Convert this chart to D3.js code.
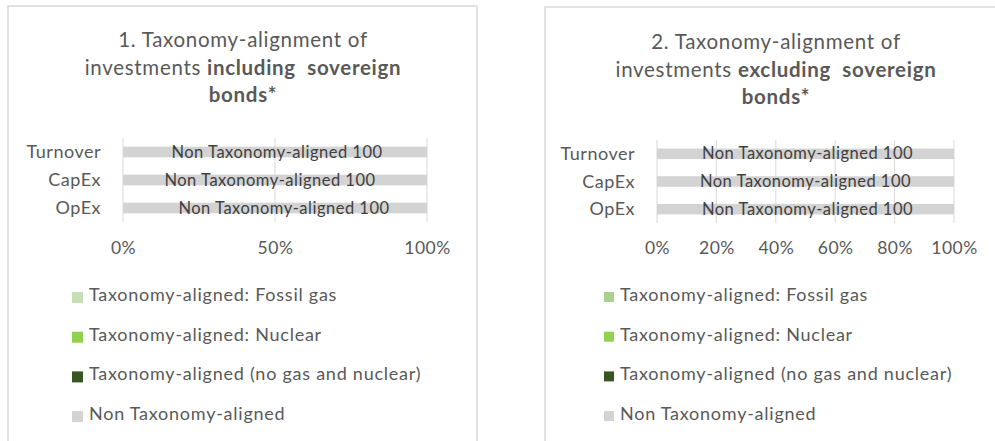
<!DOCTYPE html>
<html>
<head>
<meta charset="utf-8">
<script src="https://cdn.jsdelivr.net/npm/d3@7"></script>
<style>
  body { margin: 0; background: #fff; }
  text { font-family: Lato, "Open Sans", sans-serif; }
</style>
</head>
<body>
<svg id="chart" width="995" height="441"></svg>
<script>
const categories = ['Turnover', 'CapEx', 'OpEx']
const seriesNames = [
  'Taxonomy-aligned: Fossil gas',
  'Taxonomy-aligned: Nuclear',
  'Taxonomy-aligned (no gas and nuclear)',
  'Non Taxonomy-aligned'
]
// values in %, per category (Turnover, CapEx, OpEx)
const inclFossilGas = [0, 0, 0]
const inclNuclear = [0, 0, 0]
const inclAligned = [0, 0, 0]
const inclNonAligned = [100, 100, 100]

const exclFossilGas = [0, 0, 0]
const exclNuclear = [0, 0, 0]
const exclAligned = [0, 0, 0]
const exclNonAligned = [100, 100, 100]

const ticksIncl = [0, 0.5, 1]
const ticksExcl = [0, 0.2, 0.4, 0.6, 0.8, 1]

const colors = ['#c5e0b4', '#92d050', '#375623', '#d3d3d3']
const legendColorsRight = ['#a9d18e', '#92d050', '#375623', '#d3d3d3']

const svg = d3.select('#chart')

function buildRows(fg, nu, al, non) {
  return categories.map((c, i) => ({
    cat: c,
    [seriesNames[0]]: fg[i],
    [seriesNames[1]]: nu[i],
    [seriesNames[2]]: al[i],
    [seriesNames[3]]: non[i]
  }))
}

function drawPanel(opt) {
  const g = svg.append('g')

  // panel frame
  g.append('rect')
    .attr('x', opt.frame[0])
    .attr('y', opt.frame[1])
    .attr('width', opt.frame[2])
    .attr('height', 480)
    .attr('fill', 'white')
    .attr('stroke', '#d9d9d9')
    .attr('stroke-width', 1.5)

  // title, 3 lines with bold parts
  const title = g.append('text')
    .attr('text-anchor', 'middle')
    .attr('font-size', '20.5px')
    .attr('letter-spacing', '0.7px')
    .attr('fill', '#595959')
    .style('white-space', 'pre')
  opt.title.forEach((line, li) => {
    const t = title.append('tspan')
      .attr('x', opt.titleX)
      .attr('y', opt.titleY + li * 27.5)
    line.forEach(part => {
      t.append('tspan')
        .attr('font-weight', part.b ? 'bold' : 'normal')
        .text(part.t)
    })
  })

  const rows = buildRows(...opt.values)
  const stacked = d3.stack().keys(seriesNames)(rows)

  const x = d3.scaleLinear()
    .domain([0, 100])
    .range([opt.x0, opt.x1])

  const y = d3.scaleBand()
    .domain(categories)
    .range([opt.yTop, opt.yBottom])
    .paddingInner(0.62)
    .paddingOuter(0.31)

  // vertical gridlines
  g.append('g').selectAll('line')
    .data(opt.ticks)
    .enter()
    .append('line')
    .attr('x1', d => x(d * 100))
    .attr('x2', d => x(d * 100))
    .attr('y1', opt.yTop)
    .attr('y2', opt.yBottom)
    .attr('stroke', '#d9d9d9')
    .attr('stroke-width', 1)

  // bars
  g.append('g').selectAll('g')
    .data(stacked)
    .enter()
    .append('g')
    .attr('fill', (d, i) => colors[i])
    .selectAll('rect')
    .data(d => d)
    .enter()
    .append('rect')
    .attr('x', d => x(d[0]))
    .attr('y', d => y(d.data.cat))
    .attr('width', d => x(d[1]) - x(d[0]))
    .attr('height', y.bandwidth())

  // data labels on the non-aligned part
  const nonSeries = stacked[3]
  g.append('g').selectAll('text')
    .data(nonSeries)
    .enter()
    .append('text')
    .attr('x', (d, i) => (x(d[0]) + x(d[1])) / 2 + opt.labelNudge[i])
    .attr('y', d => y(d.data.cat) + y.bandwidth() / 2 + 5.5)
    .attr('text-anchor', 'middle')
    .attr('font-size', '16.5px')
    .attr('letter-spacing', '0.5px')
    .attr('fill', '#404040')
    .text(d => 'Non Taxonomy-aligned ' + (d[1] - d[0]))

  // category axis labels
  g.append('g').selectAll('text')
    .data(categories)
    .enter()
    .append('text')
    .attr('x', opt.x0 - 22)
    .attr('y', d => y(d) + y.bandwidth() / 2 + 6)
    .attr('text-anchor', 'end')
    .attr('font-size', '18px')
    .attr('letter-spacing', '0.5px')
    .attr('fill', '#595959')
    .text(d => d)

  // x axis tick labels
  const xAxis = d3.axisBottom(x)
    .tickValues(opt.ticks.map(d => d * 100))
    .tickFormat(d => d3.format('.0%')(d / 100))
    .tickSize(0)
    .tickPadding(0)

  const axisG = g.append('g')
    .attr('transform', `translate(0,${opt.tickY})`)
    .call(xAxis)
  axisG.select('.domain').remove()
  axisG.selectAll('text')
    .attr('font-family', 'Lato, sans-serif')
    .attr('font-size', '17.5px')
    .attr('letter-spacing', '0.5px')
    .attr('fill', '#595959')
    .attr('dy', 0)

  // legend
  const legendG = g.append('g').selectAll('g')
    .data(seriesNames)
    .enter()
    .append('g')
    .attr('transform', (d, i) => `translate(${opt.legendX},${opt.legendY + i * 39.7})`)

  legendG.append('rect')
    .attr('x', 0)
    .attr('y', -9)
    .attr('width', opt.sq)
    .attr('height', opt.sq)
    .attr('fill', (d, i) => opt.legendColors[i])

  legendG.append('text')
    .attr('x', opt.sq + 6)
    .attr('y', 0)
    .attr('font-size', '18px')
    .attr('letter-spacing', '0.75px')
    .attr('fill', '#595959')
    .text(d => d)
}

drawPanel({
  frame: [8, 6, 469],
  title: [
    [{ t: '1. Taxonomy-alignment of' }],
    [{ t: 'investments ' }, { t: 'including  sovereign', b: true }],
    [{ t: 'bonds*', b: true }]
  ],
  titleX: 243,
  titleY: 47,
  values: [inclFossilGas, inclNuclear, inclAligned, inclNonAligned],
  ticks: ticksIncl,
  x0: 123,
  x1: 427,
  yTop: 138,
  yBottom: 222,
  labelNudge: [2, -5, 9],
  tickY: 254,
  legendX: 72,
  legendY: 301,
  sq: 11,
  legendColors: colors
})

drawPanel({
  frame: [545, 7, 470],
  title: [
    [{ t: '2. Taxonomy-alignment of' }],
    [{ t: 'investments ' }, { t: 'excluding  sovereign', b: true }],
    [{ t: 'bonds*', b: true }]
  ],
  titleX: 776,
  titleY: 49,
  values: [exclFossilGas, exclNuclear, exclAligned, exclNonAligned],
  ticks: ticksExcl,
  x0: 657,
  x1: 954,
  yTop: 140,
  yBottom: 223,
  labelNudge: [2, 0, 2],
  tickY: 254,
  legendX: 604,
  legendY: 301,
  sq: 10,
  legendColors: legendColorsRight
})
</script>
</body>
</html>
